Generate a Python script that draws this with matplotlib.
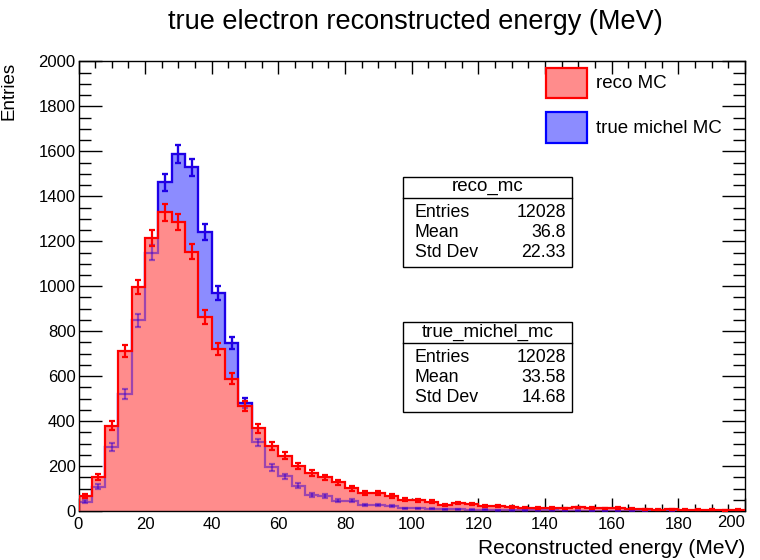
"""
Reco vs true michel electron energy, ROOT-style overlay of two histograms
"""

import numpy as np
import matplotlib.pyplot as plt
import matplotlib.transforms as mtransforms
from matplotlib.patches import Rectangle
from matplotlib.lines import Line2D
from matplotlib.ticker import MultipleLocator, FuncFormatter

plt.rcParams['font.family'] = ['Liberation Sans', 'DejaVu Sans']

# 50 bins of 4 MeV from 0 to 200
bin_edges = np.arange(0, 204, 4)

reco_mc = [68, 152, 379, 710, 996, 1215, 1329, 1285, 1154, 863,
           719, 589, 466, 368, 288, 246, 201, 169, 150, 127,
           101, 79, 80, 68, 50, 47, 41, 27, 36, 30,
           24, 24, 18, 15, 14, 14, 12, 16, 13, 12,
           13, 10, 8, 6, 7, 6, 5, 6, 4, 5]

true_michel_mc = [42, 108, 286, 522, 848, 1150, 1462, 1588, 1529, 1240,
                  971, 749, 480, 305, 194, 154, 113, 71, 68, 46,
                  46, 28, 28, 24, 12, 12, 10, 8, 7, 6,
                  5, 4, 4, 3, 3, 3, 2, 2, 1, 1,
                  1, 1, 1, 0, 1, 0, 0, 0, 0, 0]

stat_names = ['Entries', 'Mean', 'Std Dev']
reco_stats = ['12028', '36.8', '22.33']
michel_stats = ['12028', '33.58', '14.68']

legend_labels = ['reco MC', 'true michel MC']

W, H = 760, 560


def fx(x):
    return x / W


def fy(y):
    return 1 - y / H


red_fill = '#ff8c8c'
blue_fill = '#8c8cff'

reco = np.array(reco_mc, dtype=float)
michel = np.array(true_michel_mc, dtype=float)
centers = 0.5 * (bin_edges[:-1] + bin_edges[1:])

fig = plt.figure(figsize=(7.6, 5.6), dpi=100)
ax = fig.add_axes([fx(78.5), fy(511), (745 - 78.5) / W, (511 - 61.5) / H])

# blue underneath
ax.stairs(michel, bin_edges, fill=True, color=blue_fill, zorder=1)
ax.stairs(michel, bin_edges, color='blue', lw=1.6, zorder=1.5)
m = michel > 0
ax.errorbar(centers[m], michel[m], yerr=np.sqrt(michel[m]), fmt='none',
            ecolor='blue', elinewidth=1.6, capsize=2, capthick=1.6, zorder=1.6)

# red on top
ax.stairs(reco, bin_edges, fill=True, color=red_fill, zorder=2)
# blue shows through the red pattern
ax.stairs(michel, bin_edges, color='#3a00d0', lw=1.6, alpha=0.5, zorder=3)
ax.errorbar(centers[m], michel[m], yerr=np.sqrt(michel[m]), fmt='none',
            ecolor='#3a00d0', elinewidth=1.6, capsize=2, capthick=1.6,
            alpha=0.5, zorder=3)

ax.stairs(reco, bin_edges, color='red', lw=1.6, zorder=4)
r = reco > 0
ax.errorbar(centers[r], reco[r], yerr=np.sqrt(reco[r]), fmt='none',
            ecolor='red', elinewidth=1.6, capsize=2, capthick=1.6, zorder=5)

ax.set_xlim(0, 200)
ax.set_ylim(0, 2000)
ax.xaxis.set_major_locator(MultipleLocator(20))
ax.xaxis.set_minor_locator(MultipleLocator(5))
ax.yaxis.set_major_locator(MultipleLocator(200))
ax.yaxis.set_minor_locator(MultipleLocator(50))
# last x label is drawn by hand, pulled in to the left like ROOT does
ax.xaxis.set_major_formatter(FuncFormatter(lambda v, p: '' if v >= 200 else f'{v:.0f}'))
ax.tick_params(which='both', direction='in', top=True, right=True,
               labelsize=12, width=1, colors='black')
ax.tick_params(axis='x', which='major', length=9.4, pad=4)
ax.tick_params(axis='x', which='minor', length=4.7)
ax.tick_params(axis='y', which='major', length=16.5, pad=2)
ax.tick_params(axis='y', which='minor', length=8.6)
for s in ax.spines.values():
    s.set_linewidth(1)

trans = mtransforms.blended_transform_factory(ax.transData, fig.transFigure)
ax.text(200, fy(515), '200', transform=trans, ha='right', va='top',
        fontsize=12, clip_on=False)

ax.set_xlabel('Reconstructed energy (MeV)', fontsize=15, loc='right')
ax.xaxis.label.set_va('center')
ax.xaxis.set_label_coords(1.0, -(549 - 511) / 449.5)

ax.set_ylabel('Entries', fontsize=13.5, loc='top')
ax.yaxis.label.set_va('center')
ax.yaxis.set_label_coords(-(78.5 - 9) / 666.5, 1.0)

fig.text(fx(415), fy(22), 'true electron reconstructed energy (MeV)',
         ha='center', va='center', fontsize=19.5)

# legend, no border
for i, (lab, fc, ec) in enumerate(zip(legend_labels, [red_fill, blue_fill], ['red', 'blue'])):
    top = 68 + i * 44.5
    fig.add_artist(Rectangle((fx(546), fy(top + 30)), 41 / W, 30 / H,
                             transform=fig.transFigure, facecolor=fc,
                             edgecolor=ec, lw=1.6, zorder=10))
    fig.text(fx(596), fy(top + 16), lab, ha='left', va='center',
             fontsize=13.5, zorder=11)


def stats_box(name, values, top):
    left, right, bottom = 403, 572, top + 90
    fig.add_artist(Rectangle((fx(left), fy(bottom)), (right - left) / W, 90 / H,
                             transform=fig.transFigure, facecolor='white',
                             edgecolor='black', lw=1, zorder=10))
    fig.add_artist(Line2D([fx(left), fx(right)], [fy(top + 21.5), fy(top + 21.5)],
                          transform=fig.transFigure, color='black', lw=1, zorder=11))
    fig.text(fx((left + right) / 2), fy(top + 10.5), name, ha='center',
             va='center', fontsize=13.5, zorder=12)
    for k, (lab, val) in enumerate(zip(stat_names, values)):
        yy = top + 36 + 20 * k
        fig.text(fx(415), fy(yy), lab, ha='left', va='center', fontsize=12.8, zorder=12)
        fig.text(fx(566), fy(yy), val, ha='right', va='center', fontsize=12.8, zorder=12)


stats_box('reco_mc', reco_stats, 176.5)
stats_box('true_michel_mc', michel_stats, 321.5)

fig.savefig('out.png', dpi=100)
